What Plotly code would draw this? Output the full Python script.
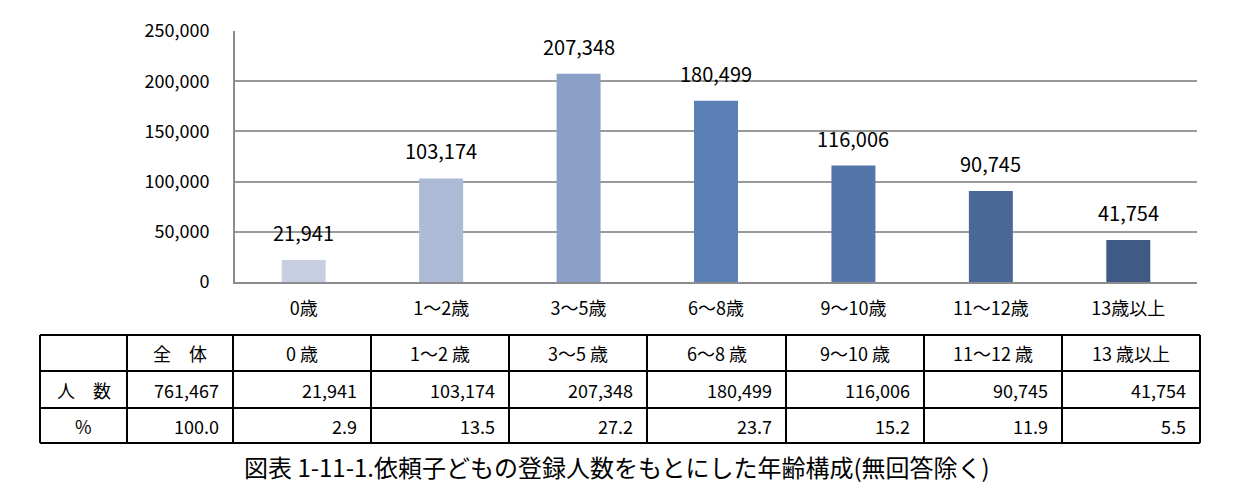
import plotly.graph_objects as go

# ---- data ----
categories = ["0歳", "1～2歳", "3～5歳", "6～8歳", "9～10歳", "11～12歳", "13歳以上"]
counts = [21941, 103174, 207348, 180499, 116006, 90745, 41754]
percents = [2.9, 13.5, 27.2, 23.7, 15.2, 11.9, 5.5]
total_count = 761467
total_percent = 100.0
bar_colors = ["#C8CEE2", "#ADBAD6", "#8AA0C6", "#5B80B6", "#5575A8", "#4A6897", "#3F5A84"]
y_ticks = [0, 50000, 100000, 150000, 200000, 250000]
header_total = "全　体"
row_labels = ["人　数", "%"]
caption = "図表 1-11-1.依頼子どもの登録人数をもとにした年齢構成(無回答除く)"

FONT = "Noto Sans CJK JP, Noto Sans, sans-serif"
W, H = 1246, 504
PL, PR, PT, PB = 235, 1197, 31, 282  # plot area in pixels

def px(x):
    return (x - PL) / (PR - PL)

def py(y):
    return (PB - y) / (PB - PT)

fig = go.Figure()
fig.add_trace(go.Bar(
    x=categories, y=counts,
    marker=dict(color=bar_colors, line=dict(width=0)),
    hoverinfo="skip", showlegend=False,
))

# data labels
for c, v in zip(categories, counts):
    fig.add_annotation(x=c, y=v, text=f"{v:,}", showarrow=False,
                       yanchor="bottom", yshift=11,
                       font=dict(family=FONT, size=20, color="#000000"))

shapes = []
annotations = []

# table geometry (pixels)
col_edges = [40, 127, 233] + [233 + round((1200 - 233) * (i + 1) / 7) for i in range(7)]
row_edges = [335, 371, 408, 443]

for xe in col_edges:
    shapes.append(dict(type="line", xref="paper", yref="paper",
                       x0=px(xe), x1=px(xe), y0=py(row_edges[0]), y1=py(row_edges[-1]),
                       line=dict(color="#000000", width=2)))
for ye in row_edges:
    shapes.append(dict(type="line", xref="paper", yref="paper",
                       x0=px(col_edges[0]), x1=px(col_edges[-1]), y0=py(ye), y1=py(ye),
                       line=dict(color="#000000", width=2)))

def cell_text(text, ci, ri, align):
    x0, x1 = col_edges[ci], col_edges[ci + 1]
    yc = (row_edges[ri] + row_edges[ri + 1]) / 2
    if align == "center":
        xx, xa = (x0 + x1) / 2, "center"
    else:
        xx, xa = x1 - 12, "right"
    annotations.append(dict(xref="paper", yref="paper", x=px(xx), y=py(yc),
                            text=text, showarrow=False, xanchor=xa, yanchor="middle",
                            font=dict(family=FONT, size=18, color="#000000")))

# header row
cell_text(header_total, 1, 0, "center")
for i, c in enumerate(categories):
    cell_text(c.replace("歳", " 歳", 1), i + 2, 0, "center")
# count row
cell_text(row_labels[0], 0, 1, "center")
cell_text(f"{total_count:,}", 1, 1, "right")
for i, v in enumerate(counts):
    cell_text(f"{v:,}", i + 2, 1, "right")
# percent row
cell_text(row_labels[1], 0, 2, "center")
cell_text(f"{total_percent:.1f}", 1, 2, "right")
for i, p in enumerate(percents):
    cell_text(f"{p:.1f}", i + 2, 2, "right")

# caption
annotations.append(dict(xref="paper", yref="paper", x=px(617), y=py(466),
                        text=caption, showarrow=False, xanchor="center", yanchor="middle",
                        font=dict(family=FONT, size=24, color="#000000")))

for a in annotations:
    fig.add_annotation(**a)

fig.update_layout(
    width=W, height=H,
    margin=dict(l=PL, r=W - PR, t=PT, b=H - PB, pad=0),
    paper_bgcolor="#FFFFFF", plot_bgcolor="#FFFFFF",
    bargap=0.68,
    shapes=shapes,
    font=dict(family=FONT, color="#000000"),
)
fig.update_xaxes(
    showline=True, linecolor="#8C8C8C", linewidth=2,
    showgrid=False, ticks="", tickfont=dict(family=FONT, size=18, color="#000000"),
    ticklabelstandoff=9,
)
fig.update_yaxes(
    range=[0, 250000], tickvals=y_ticks, tickformat=",",
    showgrid=True, gridcolor="#9A9A9A", gridwidth=2,
    showline=True, linecolor="#8C8C8C", linewidth=2,
    zeroline=False, ticks="",
    tickfont=dict(family=FONT, size=18, color="#000000"),
    ticklabelstandoff=20,
)

fig.write_html("out.html")
